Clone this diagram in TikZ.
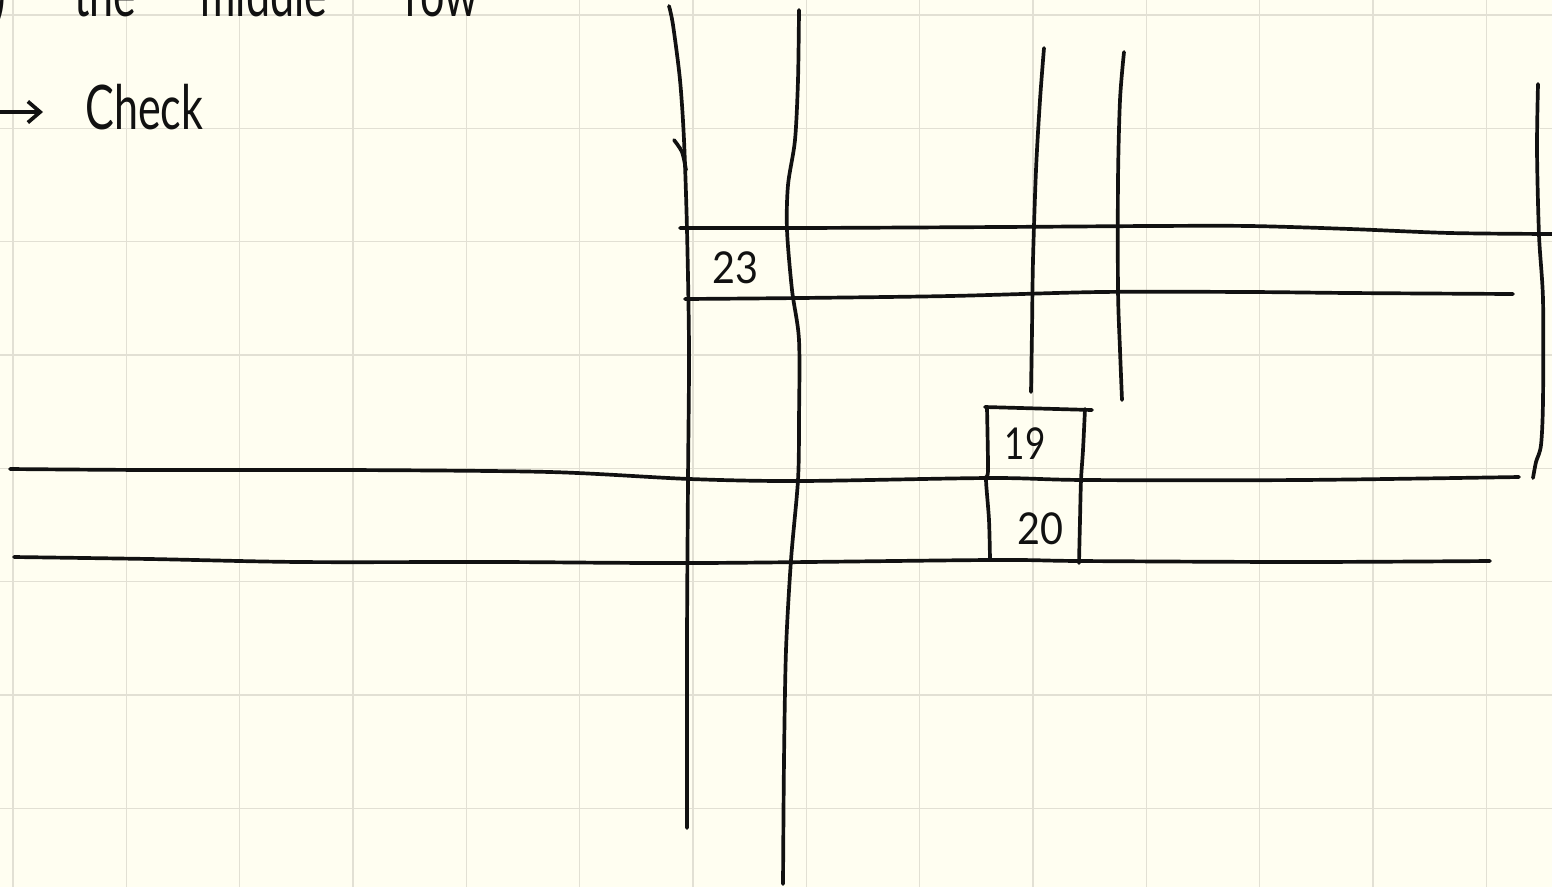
\documentclass[tikz,border=0pt]{standalone}
\usepackage{fontspec}
\setmainfont{Lato}
\usetikzlibrary{arrows.meta}
\definecolor{Paper}{HTML}{FFFEF1}
\definecolor{Grid}{HTML}{E2E0D4}
\definecolor{Ink}{HTML}{111111}

\begin{document}
\begin{tikzpicture}[x=0.02cm,y=-0.02cm,>=Latex,
    ink/.style={draw=Ink,line width=2.1pt,line cap=round,line join=round},
    gridline/.style={draw=Grid,line width=0.6pt},
    hand/.style={font=\fontsize{35}{35}\selectfont,text=Ink,inner sep=0pt,anchor=base west},
    cellnum/.style={font=\fontsize{25}{25}\selectfont,text=Ink,inner sep=0pt}]
    \useasboundingbox (0,0) rectangle (1552,887);
    \clip (0,0) rectangle (1552,887);
    \fill[Paper] (0,0) rectangle (1552,887);
    % squared paper
    \foreach \i in {0,...,13} \draw[gridline] ({13+113.33*\i},0) -- ++(0,887);
    \foreach \j in {0,...,7} \draw[gridline] (0,{15+113.33*\j}) -- ++(1552,0);

    % heading, cut at the top
    \node[hand] (paren) at (-6,16) {\scalebox{0.7}[1]{)}};
    \node[hand] (the) at (74,16) {\scalebox{0.7}[1]{the}};
    \node[hand] (middle) at (200,16) {\scalebox{0.7}[1]{middle}};
    \node[hand] (row) at (405,16) {\scalebox{0.7}[1]{row}};
    \node[hand] (check) at (85,129) {\scalebox{0.7}[1]{Check}};
    \coordinate (arrowtail) at (0,112);
    \draw[ink,-{Straight Barb[length=7pt,width=12pt]},shorten >=0.84cm] (arrowtail) -- (check.west |- arrowtail);

    % vertical strokes
    \draw[ink] plot[smooth,tension=0.5] coordinates {(669,6) (673,25) (680,80) (684,140) (687,230) (689,350) (688,480) (687,640) (687,828)};
    \draw[ink] plot[smooth,tension=0.5] coordinates {(674,140) (682,152) (686,170)};
    \draw[ink] plot[smooth,tension=0.5] coordinates {(799,10) (798,80) (795,140) (788,185) (787,230) (792,290) (799,340) (799,420) (798,480) (791,560) (786,650) (784,760) (783,884)};
    \draw[ink] plot[smooth,tension=0.5] coordinates {(1044,48) (1040,100) (1036,170) (1033,260) (1032,330) (1031,392)};
    \draw[ink] plot[smooth,tension=0.5] coordinates {(1124,52) (1120,100) (1118,180) (1118,290) (1120,350) (1122,400)};
    \draw[ink] plot[smooth,tension=0.5] coordinates {(1538,84) (1537,150) (1539,235) (1543,300) (1543,400) (1541,445) (1536,462) (1533,478)};

    % horizontal strokes
    \draw[ink] plot[smooth,tension=0.5] coordinates {(680,228) (800,228) (1000,227) (1150,226) (1250,226) (1350,229) (1450,233) (1552,234)};
    \draw[ink] plot[smooth,tension=0.5] coordinates {(685,299) (800,298) (950,296) (1100,292) (1250,292) (1350,293) (1513,294)};
    \draw[ink] plot[smooth,tension=0.5] coordinates {(10,469) (150,470) (350,470) (550,472) (690,479) (800,481) (990,478) (1085,480) (1300,480) (1519,477)};
    \draw[ink] plot[smooth,tension=0.5] coordinates {(14,557) (150,559) (300,562) (500,562) (700,563) (990,560) (1080,561) (1300,562) (1490,561)};

    % the small box
    \draw[ink] (985,407) -- (1092,410);
    \draw[ink] plot[smooth,tension=0.5] coordinates {(987,408) (988,470) (986,480) (989,520) (990,560)};
    \draw[ink] plot[smooth,tension=0.5] coordinates {(1085,409) (1083,450) (1081,480) (1080,520) (1079,563)};

    % numbers
    \node[cellnum] (n23) at (735,268) {\scalebox{0.9}[1]{23}};
    \node[cellnum] (n19) at (1025,444) {\scalebox{0.8}[1]{19}};
    \node[cellnum] (n20) at (1040,529) {\scalebox{0.9}[1]{20}};
\end{tikzpicture}
\end{document}
